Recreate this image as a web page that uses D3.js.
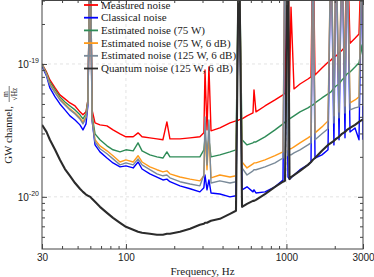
<!DOCTYPE html>
<html>
<head>
<meta charset="utf-8">
<script src="https://cdn.jsdelivr.net/npm/d3@7"></script>
<style>
  body { margin: 0; background: #fff; }
</style>
</head>
<body>
<div class="chart"></div>
<script>
// frequency bins of the spectra, Hz
const freqs = [30, 32, 33.6, 36.2, 38.8, 41.7, 44.8, 48.2, 51.7, 54,
  56.4, 58, 60, 61.5, 64.2, 68.9, 76.2, 83.1, 91.9, 100,
  111, 119, 126, 141, 156, 170, 180, 188, 217, 251,
  289, 306, 311, 320, 329, 339, 385, 445, 485, 506,
  529, 568, 619, 628, 646, 735, 849, 952, 980, 1023,
  1045, 1068, 1115, 1215, 1362, 1423, 1463, 1507, 1665, 1816,
  1896, 1977, 2037, 2127, 2218, 2317, 2383, 2490, 2675, 2833,
  2959, 3000];

// spectra in units of 1e-20 m/sqrt(Hz) (100 = line off the top)
const measured = [10.0, 8.71, 7.58, 6.60, 5.85, 5.46, 5.09, 4.83, 4.36, 4.14,
  4.36, 5.36, 100, 4.51, 3.60, 3.48, 3.42, 3.19, 2.98, 2.83,
  2.83, 3.03, 2.83, 2.78, 2.73, 2.69, 3.66, 2.73, 2.73, 2.78,
  2.83, 3.03, 9.01, 3.19, 9.49, 3.14, 3.30, 3.60, 3.73, 3.79,
  3.86, 4.07, 4.28, 6.38, 4.36, 4.83, 5.36, 5.85, 6.05, 100,
  6.16, 26.8, 6.49, 7.07, 7.71, 7.99, 100, 8.27, 9.33, 10.3,
  10.7, 11.3, 11.5, 12.1, 12.7, 13.4, 100, 14.3, 15.6, 16.8,
  100, 18.0];
const classical = [9.66, 8.13, 6.60, 5.65, 5.00, 4.51, 4.07, 3.79, 3.48, 3.19,
  3.54, 4.92, 100, 3.79, 2.46, 2.18, 1.96, 1.80, 1.68, 1.71,
  1.65, 1.83, 1.62, 1.49, 1.41, 1.34, 1.36, 1.30, 1.21, 1.15,
  1.09, 1.17, 1.46, 1.13, 1.34, 1.07, 1.05, 1.00, 1.02, 100,
  1.13, 1.19, 1.09, 1.13, 1.07, 1.09, 1.19, 1.34, 100, 1.41,
  1.36, 1.39, 1.46, 1.60, 1.74, 1.83, 100, 1.96, 2.07, 2.26,
  100, 2.46, 100, 2.69, 100, 2.78, 100, 3.08, 3.30, 2.69,
  100, 2.69];
const est75 = [10.0, 8.56, 7.32, 6.38, 5.65, 5.18, 4.83, 4.51, 4.14, 3.86,
  4.21, 5.36, 100, 4.14, 2.98, 2.69, 2.42, 2.26, 2.18, 2.26,
  2.22, 2.55, 2.22, 2.07, 2.00, 1.96, 2.18, 2.00, 2.00, 2.00,
  2.00, 2.26, 2.78, 2.26, 2.69, 2.00, 2.07, 2.18, 2.26, 100,
  2.69, 2.46, 2.55, 2.59, 2.59, 2.83, 3.19, 3.54, 3.66, 3.79,
  3.86, 3.93, 4.07, 4.36, 4.67, 4.83, 4.92, 5.09, 5.55, 5.95,
  6.16, 6.60, 6.83, 7.07, 7.58, 7.99, 8.41, 8.71, 9.49, 10.2,
  13.9, 10.7];
const est75sq = [10.0, 8.41, 7.07, 6.16, 5.46, 5.00, 4.59, 4.28, 3.93, 3.66,
  4.00, 5.18, 100, 3.93, 2.69, 2.42, 2.22, 2.04, 1.83, 1.90,
  1.83, 2.04, 1.83, 1.68, 1.60, 1.54, 1.57, 1.49, 1.41, 1.36,
  1.32, 1.44, 3.19, 1.60, 2.93, 1.39, 1.46, 1.41, 1.44, 100,
  1.83, 1.65, 1.77, 1.80, 1.80, 1.90, 2.04, 2.18, 100, 2.26,
  2.30, 2.30, 2.38, 2.55, 2.78, 2.88, 100, 3.03, 3.36, 3.73,
  100, 4.07, 100, 4.36, 100, 4.83, 100, 5.09, 5.36, 5.65,
  100, 5.85];
const est125sq = [10.0, 8.27, 6.95, 6.05, 5.36, 4.92, 4.51, 4.21, 3.86, 3.54,
  3.93, 5.09, 100, 3.79, 2.59, 2.30, 2.11, 1.93, 1.74, 1.80,
  1.74, 1.93, 1.74, 1.60, 1.49, 1.44, 1.46, 1.39, 1.30, 1.25,
  1.21, 1.46, 4.00, 1.74, 3.79, 1.27, 1.32, 1.27, 1.30, 100,
  1.65, 1.46, 1.57, 1.60, 1.60, 1.68, 1.80, 1.96, 100, 2.04,
  2.07, 2.07, 2.14, 2.26, 2.46, 2.55, 100, 2.69, 2.98, 3.25,
  100, 3.60, 100, 3.93, 100, 4.28, 100, 4.51, 4.67, 4.75,
  100, 4.83];
const quantum = [3.48, 3.08, 2.69, 2.26, 1.90, 1.62, 1.44, 1.27, 1.15, 1.09,
  1.04, 1.02, 1.00, 0.966, 0.917, 0.841, 0.758, 0.695, 0.638, 0.595,
  0.565, 0.546, 0.536, 0.527, 0.518, 0.518, 0.527, 0.527, 0.546, 0.575,
  0.616, 0.627, 0.638, 0.638, 0.649, 0.660, 0.683, 0.745, 0.785, 100,
  0.841, 0.886, 0.933, 0.933, 0.949, 1.05, 1.19, 1.30, 1.32, 100,
  1.36, 1.41, 1.46, 1.57, 1.74, 1.83, 1.90, 1.96, 2.22, 2.46,
  2.55, 2.64, 2.73, 2.83, 2.98, 3.08, 3.19, 3.30, 3.48, 3.66,
  3.79, 3.79];
const unit = 1e-20;

const seriesLabels = ['Measured noise', 'Classical noise', 'Estimated noise (75 W)',
  'Estimated noise (75 W, 6 dB)', 'Estimated noise (125 W, 6 dB)', 'Quantum noise (125 W, 6 dB)'];
const seriesColors = ['#ff0000', '#0000ff', '#2e8b57', '#ff9a1a', '#7a8a99', '#2b2b2b'];

const xMajor = [30, 100, 1000, 3000];
const xMinor = [40, 50, 60, 70, 80, 90, 200, 300, 400, 500, 600, 700, 800, 900, 2000];
const yMajor = [1e-20, 1e-19];
const yMinor = [5e-21, 6e-21, 7e-21, 8e-21, 9e-21, 2e-20, 3e-20, 4e-20, 5e-20,
  6e-20, 7e-20, 8e-20, 9e-20, 2e-19, 3e-19];

const width = 374;
const height = 277;
const margin = {top: 0, left: 42, right: 11, bottom: 28};
const plotRight = width - margin.right;
const plotBottom = height - margin.bottom;

const sans = "'Liberation Sans', Arial, sans-serif";
const serif = "'Liberation Serif', 'DejaVu Serif', serif";

const x = d3.scaleLog().domain([30, 3000]).range([margin.left, plotRight]);
const y = d3.scaleLog().domain([4.05e-21, 3.03e-19]).range([plotBottom, margin.top]);

const svg = d3.select('.chart').append('svg')
  .attr('width', width).attr('height', height)
  .style('display', 'block');

svg.append('clipPath').attr('id', 'plot')
  .append('rect')
  .attr('x', margin.left).attr('y', margin.top)
  .attr('width', plotRight - margin.left).attr('height', plotBottom - margin.top);

// dashed grid at the decades
const grid = svg.append('g').attr('stroke', '#dcdcdc').attr('stroke-dasharray', '3,3')
  .attr('stroke-width', 0.8);
[100, 1000].forEach(f => {
  grid.append('line').attr('x1', x(f)).attr('x2', x(f))
    .attr('y1', margin.top).attr('y2', plotBottom);
});
yMajor.forEach(v => {
  grid.append('line').attr('x1', margin.left).attr('x2', plotRight)
    .attr('y1', y(v)).attr('y2', y(v));
});

// the spectra
const allSeries = [measured, classical, est75, est75sq, est125sq, quantum];
const line = d3.line().x(d => x(d.f)).y(d => y(d.v));
const curves = svg.append('g').attr('clip-path', 'url(#plot)');
allSeries.forEach((vals, i) => {
  const pts = freqs.map((f, j) => ({f: f, v: vals[j] * unit}));
  curves.append('path')
    .datum(pts)
    .attr('fill', 'none')
    .attr('stroke', seriesColors[i])
    .attr('stroke-width', i === 5 ? 2.1 : 1.4)
    .attr('stroke-linejoin', 'round')
    .attr('d', line);
});

// ticks, pointing inward on all four sides
function styleAxis(g) {
  g.select('.domain').remove();
  g.selectAll('line').attr('stroke', '#444');
  g.selectAll('text').attr('fill', '#222')
    .attr('font-family', sans).attr('font-size', 10);
}
svg.append('g').attr('transform', `translate(0,${plotBottom})`)
  .call(d3.axisBottom(x).tickValues(xMajor).tickSize(-5).tickPadding(5).tickFormat(d3.format('d')))
  .call(styleAxis);
svg.append('g').attr('transform', `translate(0,${plotBottom})`)
  .call(d3.axisBottom(x).tickValues(xMinor).tickSize(-3).tickFormat(''))
  .call(styleAxis);
svg.append('g').attr('transform', `translate(0,${margin.top})`)
  .call(d3.axisTop(x).tickValues(xMajor).tickSize(-5).tickFormat(''))
  .call(styleAxis);
svg.append('g').attr('transform', `translate(0,${margin.top})`)
  .call(d3.axisTop(x).tickValues(xMinor).tickSize(-3).tickFormat(''))
  .call(styleAxis);
svg.append('g').attr('transform', `translate(${margin.left},0)`)
  .call(d3.axisLeft(y).tickValues(yMajor).tickSize(-5).tickFormat(''))
  .call(styleAxis);
svg.append('g').attr('transform', `translate(${margin.left},0)`)
  .call(d3.axisLeft(y).tickValues(yMinor).tickSize(-3).tickFormat(''))
  .call(styleAxis);
svg.append('g').attr('transform', `translate(${plotRight},0)`)
  .call(d3.axisRight(y).tickValues(yMajor).tickSize(-5).tickFormat(''))
  .call(styleAxis);
svg.append('g').attr('transform', `translate(${plotRight},0)`)
  .call(d3.axisRight(y).tickValues(yMinor).tickSize(-3).tickFormat(''))
  .call(styleAxis);

// y tick labels as powers of ten
const yLabels = svg.selectAll('.ylab').data(yMajor);
yLabels.enter().append('text')
  .attr('class', 'ylab')
  .attr('x', margin.left - 3)
  .attr('y', d => y(d) + 4)
  .attr('text-anchor', 'end')
  .attr('font-family', sans)
  .attr('font-size', 10)
  .attr('fill', '#222')
  .each(function(d) {
    const t = d3.select(this);
    t.append('tspan').text('10');
    t.append('tspan').attr('font-size', 7).attr('dy', -5)
      .text(String(Math.round(Math.log10(d))));
  });

// frame
svg.append('rect')
  .attr('x', margin.left).attr('y', margin.top + 0.5)
  .attr('width', plotRight - margin.left).attr('height', plotBottom - margin.top - 0.5)
  .attr('fill', 'none').attr('stroke', '#444').attr('stroke-width', 1);

// axis titles
svg.append('text')
  .attr('x', (margin.left + plotRight) / 2).attr('y', 275)
  .attr('text-anchor', 'middle')
  .attr('font-family', serif).attr('font-size', 11).attr('fill', '#222')
  .text('Frequency, Hz');

const ylab = svg.append('g').attr('transform', 'translate(12,124) rotate(-90)')
  .attr('font-family', serif).attr('fill', '#222');
ylab.append('text').attr('x', 18).attr('y', 0).attr('text-anchor', 'end')
  .attr('font-size', 11).text('GW channel,');
ylab.append('text').attr('x', 30).attr('y', -4).attr('text-anchor', 'middle')
  .attr('font-size', 7.5).text('m');
ylab.append('line').attr('x1', 22).attr('x2', 38).attr('y1', -2.8).attr('y2', -2.8)
  .attr('stroke', '#222').attr('stroke-width', 0.6);
ylab.append('text').attr('x', 30).attr('y', 5).attr('text-anchor', 'middle')
  .attr('font-size', 7.5).text('\u221AHz');

// legend, no box
const legend = svg.append('g');
seriesLabels.forEach((label, i) => {
  const ly = 5 + i * 12.7;
  legend.append('line')
    .attr('x1', 84).attr('x2', 98).attr('y1', ly).attr('y2', ly)
    .attr('stroke', seriesColors[i]).attr('stroke-width', 1.8);
  legend.append('text')
    .attr('x', 101).attr('y', ly + 3.6)
    .attr('font-family', serif).attr('font-size', 11).attr('fill', '#222')
    .text(label);
});
</script>
</body>
</html>
